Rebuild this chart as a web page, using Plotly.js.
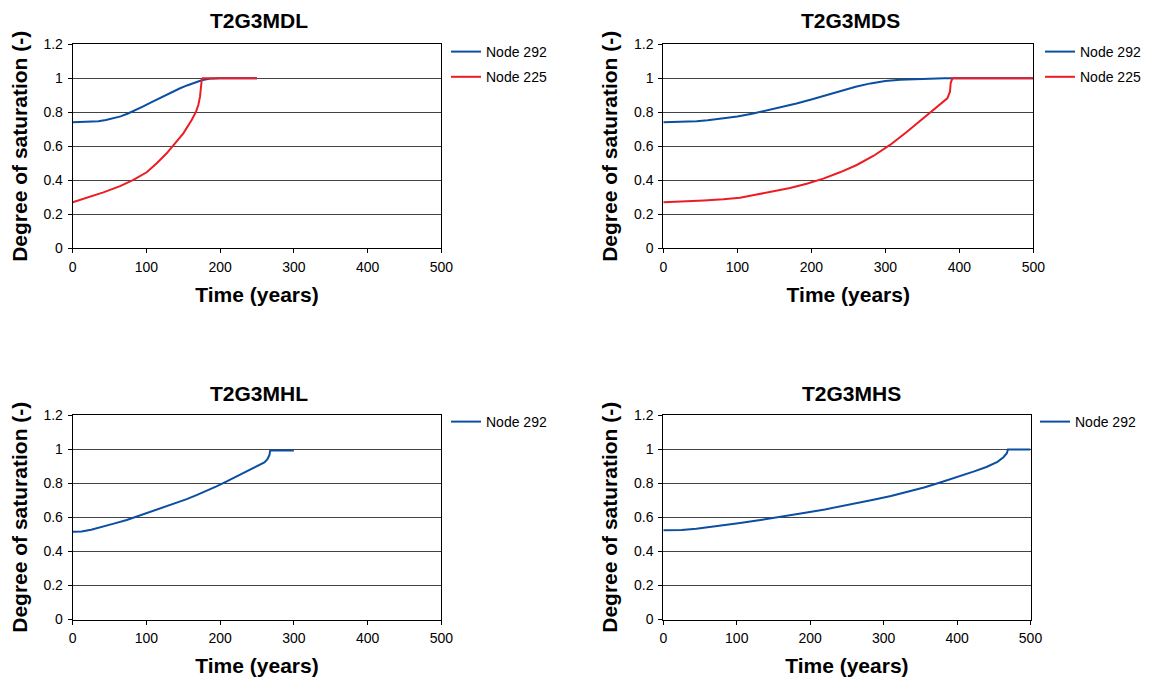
<!DOCTYPE html>
<html>
<head>
<meta charset="utf-8">
<script src="https://cdn.plot.ly/plotly-3.0.1.min.js"></script>
<style>
  html, body { margin: 0; padding: 0; background: #ffffff; }
  #chart { width: 1152px; height: 684px; }
</style>
</head>
<body>
<div id="chart"></div>
<script>
// Degree of saturation over time for four simulation cases.

// T2G3MDL
const mdlTime292 = [0, 25, 35, 45, 55, 65, 75, 85, 95, 105, 115, 125, 135, 145, 155, 165, 175, 185, 200, 250];
const mdlSat292  = [0.741, 0.743, 0.748, 0.755, 0.764, 0.776, 0.793, 0.812, 0.833, 0.856, 0.878, 0.900, 0.921, 0.940, 0.958, 0.974, 0.988, 0.997, 1.0, 1.0];
const mdlTime225 = [0, 19, 41.6, 64.2, 82.3, 100.4, 114, 127.5, 138.8, 150.1, 161.4, 167.3, 170.4, 172.7, 175, 176.4, 250];
const mdlSat225  = [0.271, 0.298, 0.329, 0.366, 0.402, 0.447, 0.500, 0.559, 0.618, 0.676, 0.755, 0.804, 0.843, 0.892, 0.990, 1.0, 1.0];

// T2G3MDS
const mdsTime292 = [0, 27, 45, 60, 80, 100, 120, 140, 160, 180, 200, 220, 240, 260, 280, 300, 320, 340, 360, 380, 500];
const mdsSat292  = [0.741, 0.744, 0.748, 0.753, 0.763, 0.775, 0.791, 0.810, 0.830, 0.852, 0.875, 0.900, 0.926, 0.950, 0.970, 0.984, 0.991, 0.995, 0.998, 1.0, 1.0];
const mdsTime225 = [0, 27, 55, 81, 103.6, 126.2, 148.6, 171.2, 193.8, 216.2, 238.8, 261.4, 283.8, 306.4, 328.9, 351.4, 364.9, 376.2, 383.8, 387.4, 388.3, 390.6, 500];
const mdsSat225  = [0.271, 0.275, 0.281, 0.288, 0.298, 0.316, 0.335, 0.355, 0.380, 0.410, 0.447, 0.490, 0.543, 0.608, 0.684, 0.765, 0.814, 0.849, 0.882, 0.921, 0.971, 1.0, 1.0];

// T2G3MHL
const mhlTime292 = [0, 12, 25, 41.6, 57, 73.3, 87, 100.5, 114, 127.6, 141, 154.7, 168, 181.9, 195, 209, 222, 236.2, 246, 254.3, 260, 264.2, 266.9, 267.9, 300];
const mhlSat292  = [0.515, 0.517, 0.527, 0.545, 0.564, 0.584, 0.604, 0.624, 0.643, 0.662, 0.684, 0.706, 0.730, 0.755, 0.781, 0.810, 0.838, 0.868, 0.889, 0.907, 0.922, 0.941, 0.966, 0.992, 0.992];

// T2G3MHS
const mhsTime292 = [0, 25, 45, 70, 104.5, 130, 149.9, 175, 195.4, 220, 240.7, 265, 286.1, 310, 331.6, 355, 377, 400, 422.3, 440, 455, 463.2, 467.8, 469.2, 500];
const mhsSat292  = [0.523, 0.525, 0.533, 0.546, 0.566, 0.582, 0.595, 0.613, 0.628, 0.646, 0.663, 0.683, 0.703, 0.725, 0.749, 0.775, 0.804, 0.835, 0.868, 0.895, 0.925, 0.952, 0.976, 0.998, 0.998];

const panelTitles = ['T2G3MDL', 'T2G3MDS', 'T2G3MHL', 'T2G3MHS'];
const xTitle = 'Time (years)';
const yTitle = 'Degree of saturation (-)';

const BLUE = '#0b4ea2';
const RED = '#ec1c24';
const FONT = 'Liberation Sans, Arial, sans-serif';

const W = 1152, H = 684;
const px = v => v / W;
const py = v => 1 - v / H;

const traces = [
  {x: mdlTime292, y: mdlSat292, name: 'Node 292', xaxis: 'x', yaxis: 'y', legend: 'legend', legendgroup: 'a1', line: {color: BLUE}},
  {x: mdlTime225, y: mdlSat225, name: 'Node 225', xaxis: 'x', yaxis: 'y', legend: 'legend', legendgroup: 'a2', line: {color: RED}},
  {x: mdsTime292, y: mdsSat292, name: 'Node 292', xaxis: 'x2', yaxis: 'y2', legend: 'legend2', legendgroup: 'b1', line: {color: BLUE}},
  {x: mdsTime225, y: mdsSat225, name: 'Node 225', xaxis: 'x2', yaxis: 'y2', legend: 'legend2', legendgroup: 'b2', line: {color: RED}},
  {x: mhlTime292, y: mhlSat292, name: 'Node 292', xaxis: 'x3', yaxis: 'y3', legend: 'legend3', legendgroup: 'c1', line: {color: BLUE}},
  {x: mhsTime292, y: mhsSat292, name: 'Node 292', xaxis: 'x4', yaxis: 'y4', legend: 'legend4', legendgroup: 'd1', line: {color: BLUE}}
].map(t => Object.assign({type: 'scatter', mode: 'lines', showlegend: true}, t, {line: Object.assign({width: 2}, t.line)}));

function xAxis(domain, anchor) {
  return {
    domain: domain, anchor: anchor, range: [0, 500], dtick: 100, tick0: 0,
    showgrid: false, zeroline: false,
    showline: true, linecolor: '#000', linewidth: 1, mirror: true,
    ticks: 'outside', ticklen: 4, tickcolor: '#000', ticklabelstandoff: 2,
    tickfont: {family: FONT, size: 14, color: '#000'},
    title: {text: xTitle, standoff: 13, font: {family: FONT, size: 21, weight: 'bold', color: '#000'}}
  };
}
function yAxis(domain, anchor) {
  return {
    domain: domain, anchor: anchor, range: [0, 1.2], dtick: 0.2, tick0: 0,
    showgrid: true, gridcolor: '#444', gridwidth: 1, zeroline: false,
    showline: true, linecolor: '#000', linewidth: 1, mirror: true,
    ticks: 'outside', ticklen: 4, tickcolor: '#000', ticklabelstandoff: 2,
    tickfont: {family: FONT, size: 14, color: '#000'},
    title: {text: yTitle, standoff: 10, font: {family: FONT, size: 21, weight: 'bold', color: '#000'}}
  };
}
function legendAt(xPx, yPx) {
  return {
    x: px(xPx), y: py(yPx), xanchor: 'left', yanchor: 'top',
    font: {family: FONT, size: 14, color: '#000'},
    bgcolor: 'rgba(0,0,0,0)', borderwidth: 0, tracegroupgap: 4
  };
}

const leftX = [px(72.7), px(441.3)];
const rightXTop = [px(663.3), px(1033.3)];
const rightXBot = [px(663.3), px(1030.5)];
const topY = [py(248.3), py(44.3)];
const botY = [py(619.5), py(415)];

const titleCenters = [[259, 21], [850, 21], [259, 393], [851, 393]];

const layout = {
  width: W, height: H,
  margin: {l: 0, r: 0, t: 0, b: 0},
  paper_bgcolor: '#fff', plot_bgcolor: '#fff',
  font: {family: FONT, color: '#000'},
  xaxis: xAxis(leftX, 'y'), yaxis: yAxis(topY, 'x'),
  xaxis2: xAxis(rightXTop, 'y2'), yaxis2: yAxis(topY, 'x2'),
  xaxis3: xAxis(leftX, 'y3'), yaxis3: yAxis(botY, 'x3'),
  xaxis4: xAxis(rightXBot, 'y4'), yaxis4: yAxis(botY, 'x4'),
  legend: legendAt(446, 36),
  legend2: legendAt(1040, 36),
  legend3: legendAt(446, 406),
  legend4: legendAt(1035, 406),
  annotations: panelTitles.map((t, i) => ({
    text: t, xref: 'paper', yref: 'paper',
    x: px(titleCenters[i][0]), y: py(titleCenters[i][1]),
    xanchor: 'center', yanchor: 'middle', showarrow: false,
    font: {family: FONT, size: 21, weight: 'bold', color: '#000'}
  }))
};

Plotly.newPlot('chart', traces, layout, {displayModeBar: false, staticPlot: true});
</script>
</body>
</html>
